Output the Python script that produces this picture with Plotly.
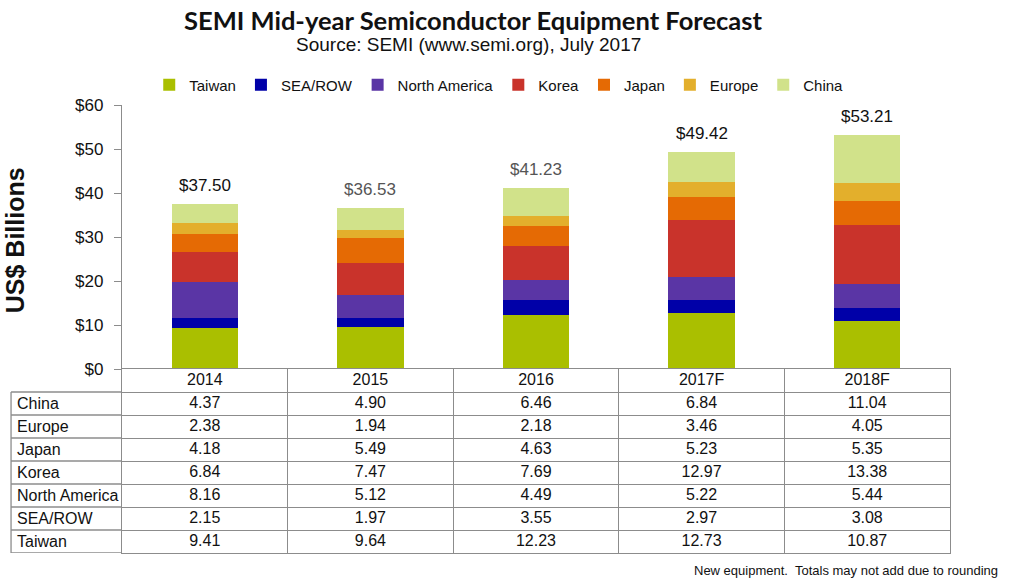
import plotly.graph_objects as go

# Werte aus dem Bild (Mrd. US$)
years = ["2014", "2015", "2016", "2017F", "2018F"]
regions = ["Taiwan", "SEA/ROW", "North America", "Korea", "Japan", "Europe", "China"]
taiwan = [9.41, 9.64, 12.23, 12.73, 10.87]
sea_row = [2.15, 1.97, 3.55, 2.97, 3.08]
north_america = [8.16, 5.12, 4.49, 5.22, 5.44]
korea = [6.84, 7.47, 7.69, 12.97, 13.38]
japan = [4.18, 5.49, 4.63, 5.23, 5.35]
europe = [2.38, 1.94, 2.18, 3.46, 4.05]
china = [4.37, 4.90, 6.46, 6.84, 11.04]
totals = [37.50, 36.53, 41.23, 49.42, 53.21]
y_ticks = [0, 10, 20, 30, 40, 50, 60]
y_tick_labels = ["$0", "$10", "$20", "$30", "$40", "$50", "$60"]

series = [taiwan, sea_row, north_america, korea, japan, europe, china]
colors = ["#AABF00", "#0000A8", "#5A35A5", "#C9332B", "#E56A04", "#E3AF2C", "#D1E28A"]
total_colors = ["#111111", "#555555", "#555555", "#111111", "#111111"]

# Tabelle: von oben nach unten
table_rows = ["China", "Europe", "Japan", "Korea", "North America", "SEA/ROW", "Taiwan"]
table_data = dict(zip(regions, series))
row_order = list(reversed(table_rows)) + ["header"]  # unten -> oben

LINE = "#8C8C8C"
FONT = "Liberation Sans, Arial, sans-serif"

fig = go.Figure()

# gestapelte Balken
for name, vals, col in zip(regions, series, colors):
    fig.add_trace(go.Bar(
        x=years, y=vals, name=name,
        marker=dict(color=col, line_width=0),
        width=0.4,
        xaxis="x", yaxis="y",
        hoverinfo="x+y+name"
    ))

# Summen über den Balken (x als Index, sonst wird "2014" als Zahl gelesen)
for i, (tot, tc) in enumerate(zip(totals, total_colors)):
    fig.add_annotation(
        x=i, y=tot, xref="x", yref="y",
        text="$%.2f" % tot, showarrow=False,
        yanchor="bottom", yshift=7,
        font=dict(size=17, color=tc, family=FONT)
    )

# Tabellenzellen als Text
cell_x, cell_y, cell_t = [], [], []
for yr_i, yr in enumerate(years):
    cell_x.append(yr)
    cell_y.append("header")
    cell_t.append(yr)
    for r in table_rows:
        cell_x.append(yr)
        cell_y.append(r)
        cell_t.append("%.2f" % table_data[r][yr_i])

fig.add_trace(go.Scatter(
    x=cell_x, y=cell_y, text=cell_t, mode="text",
    textfont=dict(size=16, color="#111111", family=FONT),
    xaxis="x2", yaxis="y2", showlegend=False, hoverinfo="skip"
))

# Zeilenbeschriftung links
for r in table_rows:
    fig.add_annotation(
        x=-0.1295, y=r, xref="paper", yref="y2",
        text=r, showarrow=False, xanchor="left", yanchor="middle",
        font=dict(size=16, color="#111111", family=FONT)
    )

# Linien der Beschriftungsspalte
for k in range(len(table_rows) + 1):
    fig.add_shape(type="line", xref="paper", yref="y2",
                  x0=-0.134, x1=0, y0=k - 0.5, y1=k - 0.5,
                  line=dict(color=LINE, width=1.3))
fig.add_shape(type="line", xref="paper", yref="y2",
              x0=-0.134, x1=-0.134, y0=-0.5, y1=len(table_rows) - 0.5,
              line=dict(color=LINE, width=1.3))

split = 184 / 448

fig.update_layout(
    width=1009, height=586,
    margin=dict(l=122, r=59, t=105, b=33),
    paper_bgcolor="white", plot_bgcolor="white",
    barmode="stack",
    font=dict(family=FONT, color="#111111"),
    xaxis=dict(
        domain=[0, 1], anchor="y", categoryorder="array", categoryarray=years,
        range=[-0.5, 4.5], showticklabels=False, showgrid=False,
        showline=False, ticks=""
    ),
    yaxis=dict(
        domain=[split, 1], anchor="x", range=[0, 60],
        tickmode="array", tickvals=y_ticks, ticktext=y_tick_labels,
        ticks="outside", ticklen=7, ticklabelstandoff=7,
        tickcolor=LINE, showline=True, linecolor=LINE, linewidth=1.3,
        showgrid=False, zeroline=False, automargin=False,
        tickfont=dict(size=17, color="#111111")
    ),
    xaxis2=dict(
        domain=[0, 1], anchor="y2", categoryorder="array", categoryarray=years,
        range=[-0.5, 4.5], showticklabels=False, tickson="boundaries",
        showgrid=True, gridcolor=LINE, gridwidth=1.3,
        showline=True, mirror=True, linecolor=LINE, linewidth=1.3, ticks=""
    ),
    yaxis2=dict(
        domain=[0, split], anchor="x2", categoryorder="array", categoryarray=row_order,
        range=[-0.5, len(row_order) - 0.5], showticklabels=False, tickson="boundaries",
        showgrid=True, gridcolor=LINE, gridwidth=1.3,
        showline=True, mirror=True, linecolor=LINE, linewidth=1.3, ticks=""
    ),
    legend=dict(
        orientation="h", x=0.455, y=1.0446, xanchor="center", yanchor="middle",
        traceorder="normal", font=dict(size=15, color="#111111"),
        bgcolor="rgba(0,0,0,0)"
    ),
    showlegend=True
)

# Titel
fig.add_annotation(
    x=0.424, y=1.1897, xref="paper", yref="paper", showarrow=False,
    xanchor="center", yanchor="middle",
    text="<b>SEMI Mid-year Semiconductor Equipment Forecast</b>",
    font=dict(size=25.5, color="#111111", family="Lato, Liberation Sans, sans-serif")
)
fig.add_annotation(
    x=0.419, y=1.136, xref="paper", yref="paper", showarrow=False,
    xanchor="center", yanchor="middle",
    text="Source: SEMI (www.semi.org), July 2017",
    font=dict(size=19, color="#111111")
)
# Achsentitel
fig.add_annotation(
    x=-0.13, y=0.699, xref="paper", yref="paper", showarrow=False,
    xanchor="center", yanchor="middle",
    text="<b>US$ Billions</b>", textangle=-90,
    font=dict(size=25, color="#111111")
)
# Fußnote
fig.add_annotation(
    x=1.0605, y=-0.038, xref="paper", yref="paper", showarrow=False,
    xanchor="right", yanchor="middle",
    text="New equipment.  Totals may not add due to rounding",
    font=dict(size=13, color="#111111")
)

# Body-Rand der HTML-Seite entfernen, damit die Grafik bei 0/0 sitzt
fig.write_html("out.html", config={"displayModeBar": False},
               post_script="document.body.style.margin='0';")
